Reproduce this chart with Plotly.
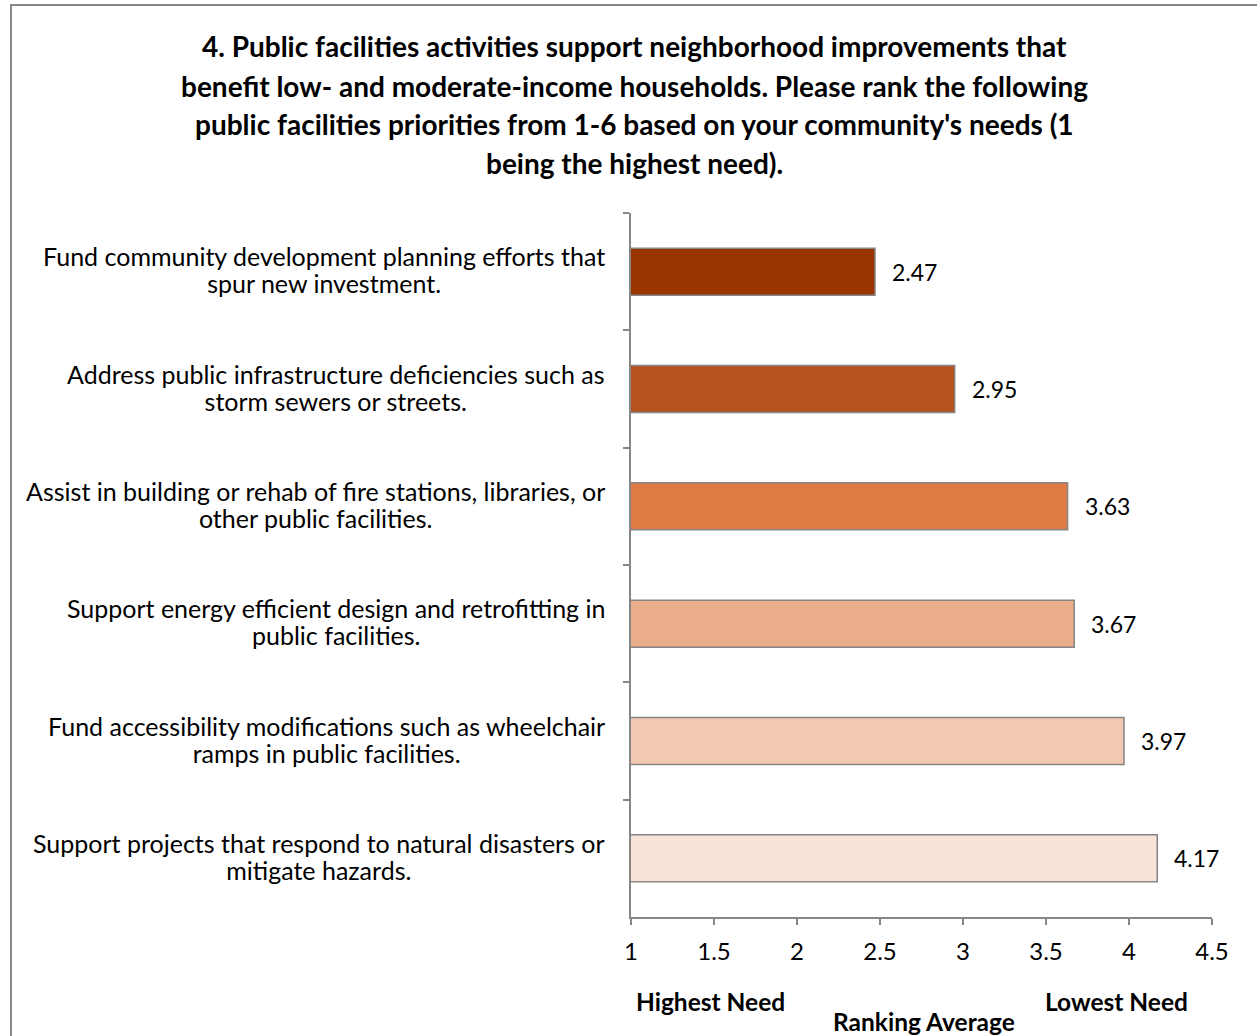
import plotly.graph_objects as go

# Survey question 4: ranking averages for public facilities priorities
categories = [
    "Fund community development planning efforts that<br>spur new investment.",
    "Address public infrastructure deficiencies such as<br>storm sewers or streets.",
    "Assist in building or rehab of fire stations, libraries, or<br>other public facilities.",
    "Support energy efficient design and retrofitting in<br>public facilities.",
    "Fund accessibility modifications such as wheelchair<br>ramps in public facilities.",
    "Support projects that respond to natural disasters or<br>mitigate hazards.",
]
ranking_avg = [2.47, 2.95, 3.63, 3.67, 3.97, 4.17]
bar_colors = ["#993300", "#B7521E", "#E07B45", "#EAAD8A", "#F2C8B0", "#F8E4D8"]
x_ticks = [1, 1.5, 2, 2.5, 3, 3.5, 4, 4.5]
x_tick_text = ["1", "1.5", "2", "2.5", "3", "3.5", "4", "4.5"]

title_lines = [
    "4. Public facilities activities support neighborhood improvements that",
    "benefit low- and moderate-income households. Please rank the following",
    "public facilities priorities from 1-6 based on your community's needs (1",
    "being the highest need).",
]

W, H = 1257, 1036
L, R, T, B = 631, 45, 213, 119
PW, PH = W - L - R, H - T - B


def px_x(px):
    return (px - L) / PW


def px_y(py):
    return (H - B - py) / PH


FONT = "Lato, Carlito, Calibri, sans-serif"

fig = go.Figure(
    go.Bar(
        x=ranking_avg,
        y=categories,
        orientation="h",
        width=0.4,
        marker=dict(color=bar_colors, line=dict(color="#868686", width=1.5)),
        hoverinfo="x+y",
    )
)

annotations = []
# category labels: centred two-line blocks, right edge near the axis
for cat in categories:
    annotations.append(dict(
        x=0, y=cat, xref="paper", yref="y",
        text=f'<span style="font-size:25px">{cat}</span>',
        showarrow=False, xanchor="right", yanchor="middle", align="center",
        xshift=-24, yshift=2,
        font=dict(family=FONT, size=21, color="#000000"),
    ))

# value labels beside each bar
for cat, v in zip(categories, ranking_avg):
    annotations.append(dict(
        x=v, y=cat, xref="x", yref="y", text=f"{v:.2f}", showarrow=False,
        xanchor="left", yanchor="middle", xshift=15,
        font=dict(family=FONT, size=23, color="#000000"),
    ))

# chart title, one annotation per line
for py, line in zip([46, 86, 124, 163], title_lines):
    annotations.append(dict(
        x=px_x(634), y=px_y(py), xref="paper", yref="paper", text=f"<b>{line}</b>",
        showarrow=False, xanchor="center", yanchor="middle",
        font=dict(family=FONT, size=28, color="#000000"),
    ))

# axis end captions and axis title
for px, py, txt in [(710, 1001, "Highest Need"), (1116, 1001, "Lowest Need"),
                    (924, 1021, "Ranking Average")]:
    annotations.append(dict(
        x=px_x(px), y=px_y(py), xref="paper", yref="paper", text=f"<b>{txt}</b>",
        showarrow=False, xanchor="center", yanchor="middle",
        font=dict(family=FONT, size=24.5, color="#000000"),
    ))

fig.update_layout(
    width=W, height=H,
    margin=dict(l=L, r=R, t=T, b=B, pad=0),
    paper_bgcolor="white", plot_bgcolor="white",
    showlegend=False,
    font=dict(family=FONT, size=19, color="#000000"),
    annotations=annotations,
    shapes=[dict(
        type="rect", xref="paper", yref="paper",
        x0=px_x(11), x1=px_x(1300), y0=px_y(1100), y1=px_y(5),
        line=dict(color="#868686", width=2), fillcolor="rgba(0,0,0,0)", layer="below",
    )],
)

fig.update_xaxes(
    range=[1, 4.5], tickvals=x_ticks, ticktext=x_tick_text,
    showline=True, linecolor="#868686", linewidth=1.5,
    ticks="outside", ticklen=6, tickcolor="#868686", tickwidth=1.5,
    showgrid=False, zeroline=False,
    tickfont=dict(family=FONT, size=24, color="#000000"),
    ticklabelstandoff=6,
)

fig.update_yaxes(
    autorange="reversed", categoryorder="array", categoryarray=categories,
    showline=True, linecolor="#868686", linewidth=1.5,
    ticks="outside", ticklen=6, tickcolor="#868686", tickwidth=1.5,
    tickson="boundaries", showgrid=False, zeroline=False,
    showticklabels=False,
)

fig.write_html("out.html")
